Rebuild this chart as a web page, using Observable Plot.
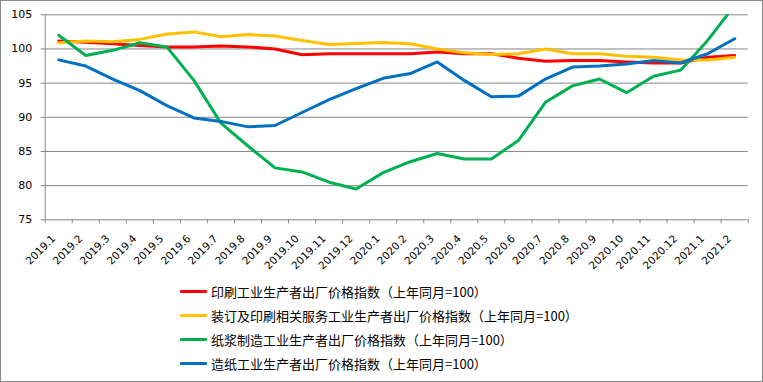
<!DOCTYPE html>
<html><head><meta charset="utf-8">
<script src="https://cdn.jsdelivr.net/npm/d3@7"></script>
<script src="https://cdn.jsdelivr.net/npm/@observablehq/plot@0.6"></script>
<style>
body{margin:0;background:#fff}
#frame{width:763px;height:382px;box-sizing:border-box;border:1px solid #898989;overflow:hidden;background:#fff}
#legend{padding-top:8px;padding-left:179px}
.row{height:24px;display:flex;align-items:center;font-family:"Noto Sans CJK SC",sans-serif;font-size:13px;color:#000;white-space:nowrap}
.sw{width:27px;height:3px;margin-right:4px;border-radius:1px}
</style></head><body><div id="frame"><div id="chart"></div><div id="legend"></div></div>
<script>
const categories = ["2019.1","2019.2","2019.3","2019.4","2019.5","2019.6","2019.7","2019.8","2019.9","2019.10","2019.11","2019.12","2020.1","2020.2","2020.3","2020.4","2020.5","2020.6","2020.7","2020.8","2020.9","2020.10","2020.11","2020.12","2021.1","2021.2"];
const printing = [101.15,101.0,100.75,100.5,100.3,100.3,100.45,100.3,100.0,99.15,99.3,99.3,99.3,99.3,99.55,99.3,99.3,98.65,98.2,98.3,98.3,98.1,97.95,97.95,98.8,99.05];
const binding = [100.9,101.15,101.05,101.4,102.2,102.5,101.8,102.1,101.9,101.25,100.65,100.8,100.95,100.75,100.0,99.45,99.2,99.3,100.0,99.3,99.3,98.95,98.8,98.4,98.4,98.8];
const pulp = [102.0,99.05,99.8,100.9,100.3,95.4,89.15,85.8,82.6,82.0,80.5,79.5,81.9,83.5,84.7,83.9,83.9,86.6,92.2,94.6,95.6,93.6,96.0,96.9,101.25,106.4];
const paper = [98.4,97.5,95.6,93.9,91.7,89.9,89.4,88.6,88.8,90.7,92.6,94.2,95.7,96.4,98.1,95.4,93.0,93.1,95.6,97.35,97.5,97.8,98.3,97.95,99.3,101.5];
const seriesNames = ["印刷工业生产者出厂价格指数（上年同月=100）","装订及印刷相关服务工业生产者出厂价格指数（上年同月=100）","纸浆制造工业生产者出厂价格指数（上年同月=100）","造纸工业生产者出厂价格指数（上年同月=100）"];
const seriesColors = ["#FF0000","#FFC000","#00B050","#0070C0"];
const yTicks = [75,80,85,90,95,100,105];

const series = [printing, binding, pulp, paper];
const rows = [];
series.forEach((vals, s) => vals.forEach((v, i) => rows.push({i, v, s: seriesNames[s]})));
const idx = d3.range(categories.length);
const bounds = idx.map(i => i - 0.5).concat([categories.length - 0.5]);

const chart = Plot.plot({
  width: 761, height: 270,
  marginLeft: 43.7, marginRight: 14.3, marginTop: 13.3, marginBottom: 51.7,
  style: {fontFamily: "DejaVu Sans", fontSize: "11px", color: "#000", background: "#fff", overflow: "visible"},
  x: {type: "linear", domain: [-0.5, categories.length - 0.5]},
  y: {domain: [75, 105]},
  color: {domain: seriesNames, range: seriesColors},
  marks: [
    Plot.ruleY(yTicks, {stroke: "#868686", strokeWidth: 1}),
    Plot.ruleX([-0.5], {stroke: "#868686"}),
    Plot.axisY({ticks: yTicks, tickSize: 4, tickPadding: 9, stroke: "#868686", label: null}),
    Plot.axisX({ticks: bounds, tickSize: 4, tickFormat: () => "", stroke: "#868686", label: null}),
    Plot.axisX({ticks: idx, tickSize: 0, tickPadding: 8, tickRotate: -45, tickFormat: i => categories[i], label: null, fontSize: 10.5, dx: -5, dy: 9}),
    Plot.line(rows, {x: "i", y: "v", z: "s", stroke: "s", strokeWidth: 3, clip: true, strokeLinejoin: "round", strokeLinecap: "round"})
  ]
});
document.getElementById("chart").appendChild(chart);

const legend = document.getElementById("legend");
seriesNames.forEach((name, k) => {
  const row = document.createElement("div");
  row.className = "row";
  const sw = document.createElement("span");
  sw.className = "sw";
  sw.style.background = seriesColors[k];
  const tx = document.createElement("span");
  tx.textContent = name;
  row.appendChild(sw); row.appendChild(tx);
  legend.appendChild(row);
});
</script></body></html>
